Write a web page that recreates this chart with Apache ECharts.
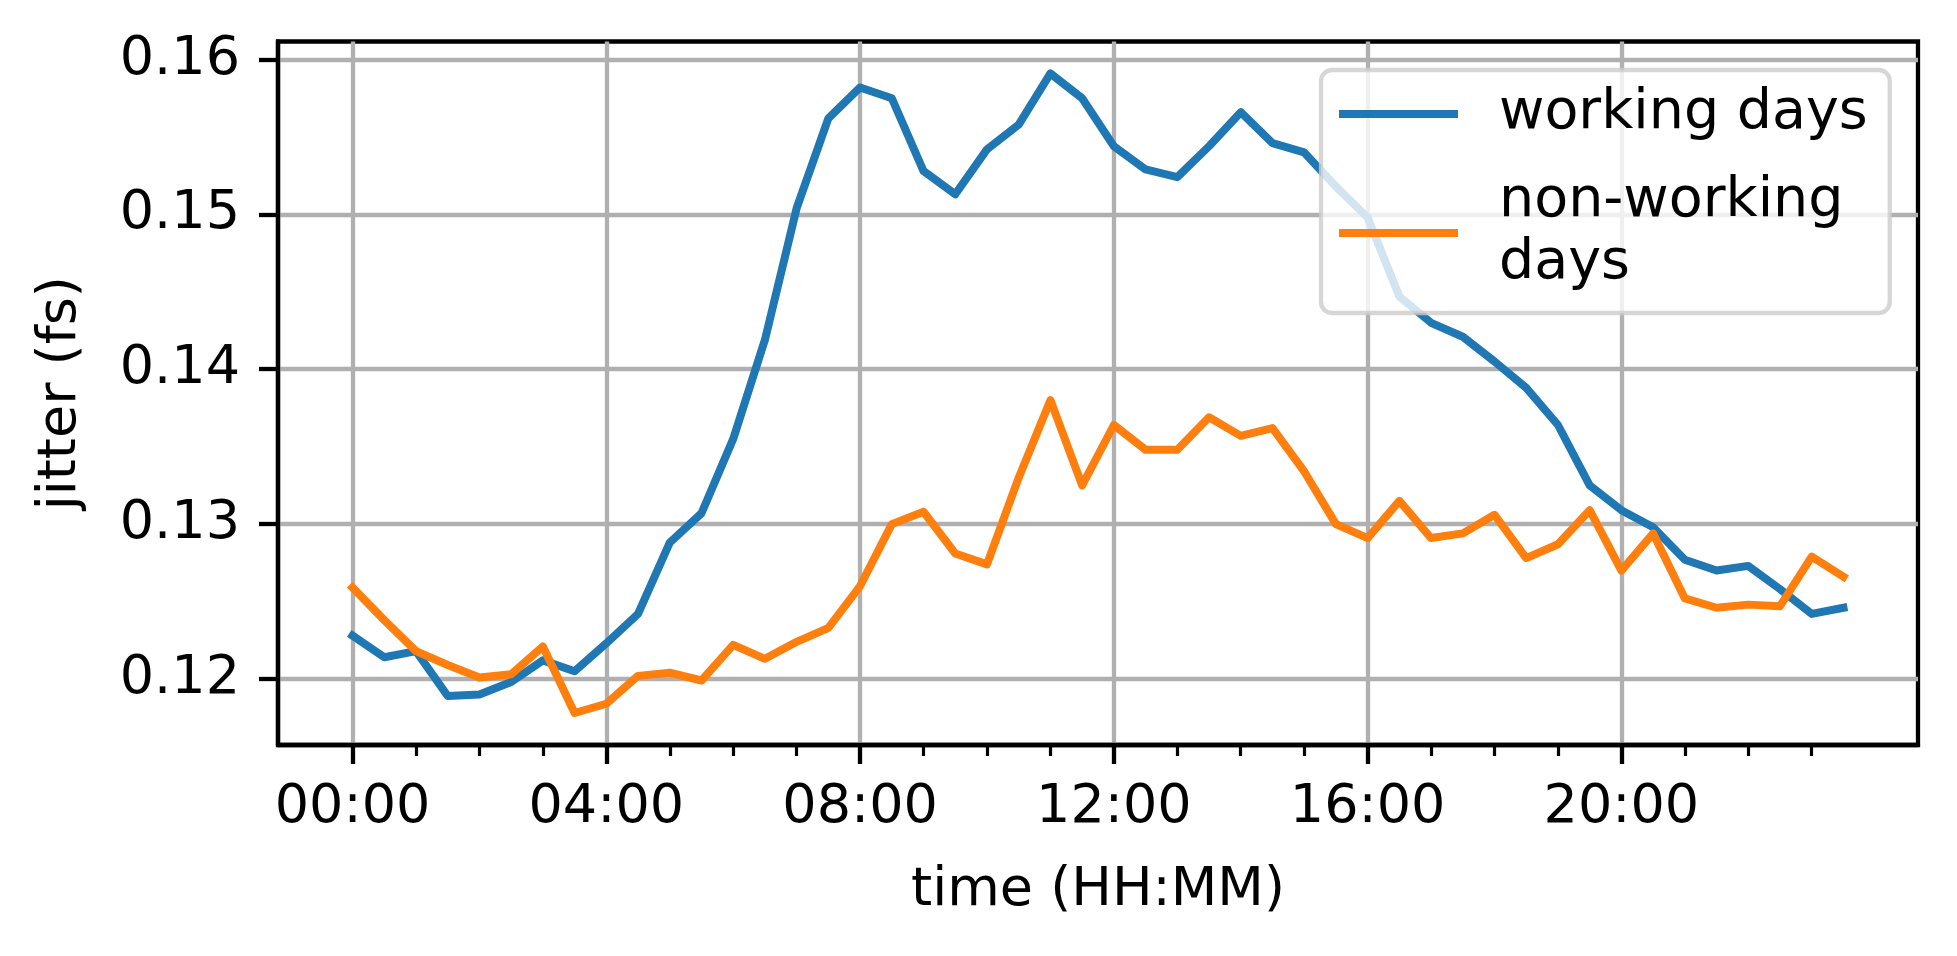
<!DOCTYPE html>
<html>
<head>
<meta charset="utf-8">
<script src="https://cdn.jsdelivr.net/npm/echarts@6/dist/echarts.min.js"></script>
<style>
html,body{margin:0;padding:0;background:#fff;}
#chart{width:1957px;height:956px;}
</style>
</head>
<body>
<div id="chart"></div>
<script>
const times = ['00:00','00:30','01:00','01:30','02:00','02:30','03:00','03:30','04:00','04:30','05:00','05:30',
  '06:00','06:30','07:00','07:30','08:00','08:30','09:00','09:30','10:00','10:30','11:00','11:30',
  '12:00','12:30','13:00','13:30','14:00','14:30','15:00','15:30','16:00','16:30','17:00','17:30',
  '18:00','18:30','19:00','19:30','20:00','20:30','21:00','21:30','22:00','22:30','23:00','23:30'];
const workingDays = [0.1228,0.1214,0.1218,0.1189,0.1190,0.1198,0.1212,0.1205,0.1223,0.1242,0.1288,0.1307,
  0.1355,0.1419,0.1504,0.1562,0.1582,0.1575,0.1528,0.1513,0.1542,0.1558,0.1591,0.1575,
  0.1544,0.1529,0.1524,0.1544,0.1566,0.1546,0.1540,0.1518,0.1498,0.1447,0.1430,0.1421,
  0.1405,0.1388,0.1364,0.1325,0.1309,0.1298,0.1277,0.1270,0.1273,0.1258,0.1242,0.1246];
const nonWorkingDays = [0.1259,0.1238,0.1218,0.1209,0.1201,0.1203,0.1221,0.1178,0.1184,0.1202,0.1204,0.1199,
  0.1222,0.1213,0.1224,0.1233,0.1260,0.1300,0.1308,0.1281,0.1274,0.1330,0.1380,0.1325,
  0.1364,0.1348,0.1348,0.1369,0.1357,0.1362,0.1334,0.1300,0.1291,0.1315,0.1291,0.1294,
  0.1306,0.1278,0.1287,0.1309,0.1270,0.1294,0.1252,0.1246,0.1248,0.1247,0.1279,0.1266];
const xTickLabels = ['00:00','04:00','08:00','12:00','16:00','20:00'];
const xMinorTickLabels = ['01:00','02:00','03:00','05:00','06:00','07:00','09:00','10:00','11:00','13:00','14:00','15:00',
  '17:00','18:00','19:00','21:00','22:00','23:00'];
const yTicks = [0.12, 0.13, 0.14, 0.15, 0.16];
const seriesNames = ['working days', 'non-working\ndays'];

function toHours(s){ const p = s.split(':'); return (+p[0]) + (+p[1]) / 60; }
const xs = times.map(toHours);
const pairs = arr => arr.map((v, i) => [xs[i], v]);

// matplotlib-like 5% margins
const xMinD = Math.min(...xs), xMaxD = Math.max(...xs);
const xPad = (xMaxD - xMinD) * 0.05;
const allY = workingDays.concat(nonWorkingDays);
const yMinD = Math.min(...allY), yMaxD = Math.max(...allY);
const yPad = (yMaxD - yMinD) * 0.05;

const FONT = 'DejaVu Sans';
const FS = 54;
const chart = echarts.init(document.getElementById('chart'), null, {renderer: 'canvas'});
chart.setOption({
  animation: false,
  backgroundColor: '#fff',
  textStyle: {fontFamily: FONT},
  grid: {left: 278, right: 39, top: 41.5, bottom: 211, show: true, borderColor: '#000', borderWidth: 4.3, containLabel: false},
  legend: {
    orient: 'vertical', left: 1321, top: 70,
    padding: [13, 22, 18, 18],
    itemGap: 26,
    itemWidth: 119, itemHeight: 8,
    icon: 'rect',
    backgroundColor: 'rgba(255,255,255,0.8)',
    borderColor: 'rgba(204,204,204,0.8)',
    borderWidth: 4.3,
    borderRadius: 11,
    textStyle: {fontFamily: FONT, fontSize: 55.5, lineHeight: 62, color: '#000', padding: [0, 0, 0, 36]},
    data: seriesNames
  },
  xAxis: [{
    type: 'value', min: xMinD - xPad, max: xMaxD + xPad,
    name: 'time (HH:MM)', nameLocation: 'middle', nameGap: 119,
    nameTextStyle: {fontFamily: FONT, fontSize: FS, color: '#000'},
    axisLine: {show: true, onZero: false, lineStyle: {color: '#000', width: 4.3}},
    axisTick: {show: true, length: 19, lineStyle: {color: '#000', width: 4.3}, customValues: xTickLabels.map(toHours)},
    axisLabel: {show: true, margin: 36, fontFamily: FONT, fontSize: FS, color: '#000',
      customValues: xTickLabels.map(toHours),
      formatter: v => { const h = Math.round(v); return (h < 10 ? '0' : '') + h + ':00'; }},
    splitLine: {show: true, lineStyle: {color: '#b0b0b0', width: 4.3}}
  }, {
    type: 'value', min: xMinD - xPad, max: xMaxD + xPad, position: 'bottom', offset: 0,
    axisLine: {show: false, onZero: false},
    axisTick: {show: true, length: 11, lineStyle: {color: '#000', width: 3.2}, customValues: xMinorTickLabels.map(toHours)},
    axisLabel: {show: false},
    splitLine: {show: false}
  }],
  yAxis: {
    type: 'value', min: yMinD - yPad, max: yMaxD + yPad,
    name: 'jitter (fs)', nameLocation: 'middle', nameGap: 190, nameRotate: 90,
    nameTextStyle: {fontFamily: FONT, fontSize: FS, color: '#000'},
    axisLine: {show: true, onZero: false, lineStyle: {color: '#000', width: 4.3}},
    axisTick: {show: true, length: 19, lineStyle: {color: '#000', width: 4.3}, customValues: yTicks},
    axisLabel: {show: true, margin: 38, fontFamily: FONT, fontSize: FS, color: '#000',
      customValues: yTicks, formatter: v => v.toFixed(2)},
    splitLine: {show: true, lineStyle: {color: '#b0b0b0', width: 4.3}}
  },
  series: [{
    name: seriesNames[0], type: 'line', xAxisIndex: 0, data: pairs(workingDays),
    showSymbol: false, symbol: 'none', color: '#1f77b4',
    lineStyle: {width: 8, color: '#1f77b4', join: 'round', cap: 'square'}
  }, {
    name: seriesNames[1], type: 'line', xAxisIndex: 0, data: pairs(nonWorkingDays),
    showSymbol: false, symbol: 'none', color: '#ff7f0e',
    lineStyle: {width: 8, color: '#ff7f0e', join: 'round', cap: 'square'}
  }]
});
</script>
</body>
</html>
